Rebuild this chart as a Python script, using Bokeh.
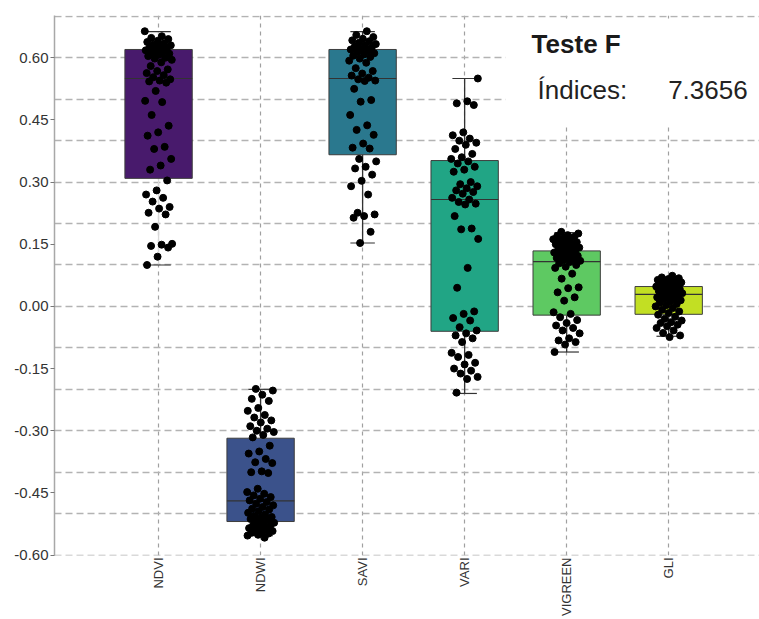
import math
from bokeh.plotting import figure
from bokeh.models import Range1d, FixedTicker, BoxAnnotation, Label, PrintfTickFormatter
from bokeh.embed import file_html
from bokeh.resources import INLINE

categories = ["NDVI", "NDWI", "SAVI", "VARI", "VIGREEN", "GLI"]
box_colors = ["#481a6c", "#3b528b", "#2a788e", "#21a585", "#5ec962", "#c2df23"]

q1 = [0.309, -0.519, 0.366, -0.060, -0.021, -0.019]
med = [0.550, -0.469, 0.550, 0.258, 0.108, 0.029]
q3 = [0.620, -0.318, 0.620, 0.352, 0.134, 0.048]
lo = [0.100, -0.553, 0.153, -0.210, -0.110, -0.072]
hi = [0.663, -0.200, 0.663, 0.550, 0.178, 0.070]

ndvi_pts = [0.664, 0.652, 0.648, 0.645, 0.641, 0.638, 0.635, 0.632, 0.630, 0.628, 0.625, 0.622, 0.620,
            0.618, 0.615, 0.612, 0.610, 0.607, 0.604, 0.600, 0.598, 0.595, 0.589, 0.580, 0.572, 0.568,
            0.563, 0.558, 0.553, 0.548, 0.545, 0.543, 0.540, 0.520, 0.496, 0.493, 0.462, 0.436, 0.420,
            0.412, 0.385, 0.380, 0.356, 0.340, 0.330, 0.304, 0.280, 0.270, 0.262, 0.253, 0.240, 0.236,
            0.226, 0.222, 0.192, 0.151, 0.149, 0.146, 0.142, 0.120, 0.100]
ndwi_pts = [-0.199, -0.203, -0.213, -0.223, -0.228, -0.245, -0.252, -0.262, -0.268, -0.275, -0.280,
            -0.289, -0.295, -0.300, -0.303, -0.310, -0.316, -0.336, -0.350, -0.355, -0.368, -0.376,
            -0.378, -0.398, -0.400, -0.402, -0.440, -0.448, -0.452, -0.456, -0.460, -0.464, -0.468,
            -0.472, -0.476, -0.480, -0.484, -0.488, -0.490, -0.494, -0.498, -0.502, -0.505, -0.508,
            -0.510, -0.513, -0.516, -0.519, -0.522, -0.525, -0.528, -0.530, -0.532, -0.535, -0.537,
            -0.540, -0.542, -0.544, -0.546, -0.548, -0.551, -0.553, -0.558]
savi_pts = [0.664, 0.655, 0.650, 0.646, 0.642, 0.640, 0.636, 0.633, 0.630, 0.627, 0.625, 0.622, 0.620,
            0.617, 0.614, 0.611, 0.608, 0.605, 0.602, 0.598, 0.593, 0.588, 0.575, 0.568, 0.562, 0.557,
            0.552, 0.548, 0.545, 0.544, 0.525, 0.498, 0.494, 0.462, 0.437, 0.426, 0.414, 0.393, 0.383,
            0.381, 0.356, 0.350, 0.337, 0.333, 0.318, 0.303, 0.290, 0.270, 0.226, 0.222, 0.218, 0.214,
            0.180, 0.153]
vari_pts = [0.550, 0.495, 0.490, 0.486, 0.420, 0.413, 0.405, 0.400, 0.395, 0.390, 0.380, 0.368, 0.360,
            0.356, 0.350, 0.345, 0.337, 0.330, 0.325, 0.300, 0.295, 0.290, 0.285, 0.280, 0.276, 0.272,
            0.262, 0.258, 0.252, 0.248, 0.246, 0.218, 0.188, 0.186, 0.163, 0.093, 0.045, -0.012, -0.018,
            -0.028, -0.034, -0.050, -0.058, -0.065, -0.070, -0.077, -0.086, -0.112, -0.117, -0.122,
            -0.136, -0.140, -0.150, -0.155, -0.162, -0.170, -0.175, -0.208]
vigreen_pts = [0.180, 0.176, 0.172, 0.170, 0.168, 0.165, 0.162, 0.160, 0.158, 0.155, 0.152, 0.150, 0.148,
               0.145, 0.142, 0.140, 0.137, 0.135, 0.132, 0.130, 0.127, 0.125, 0.122, 0.120, 0.117, 0.115,
               0.112, 0.110, 0.107, 0.104, 0.100, 0.096, 0.093, 0.079, 0.067, 0.046, 0.044, 0.034, 0.022,
               0.014, -0.014, -0.018, -0.026, -0.033, -0.040, -0.046, -0.052, -0.058, -0.065, -0.077,
               -0.082, -0.086, -0.092, -0.110]
gli_pts = [0.074, 0.070, 0.068, 0.066, 0.064, 0.062, 0.060, 0.058, 0.056, 0.054, 0.052, 0.050, 0.048,
           0.046, 0.044, 0.042, 0.040, 0.038, 0.036, 0.034, 0.032, 0.030, 0.028, 0.026, 0.024, 0.022,
           0.020, 0.018, 0.015, 0.012, 0.009, 0.006, 0.003, 0.000, -0.004, -0.008, -0.012, -0.016,
           -0.020, -0.025, -0.030, -0.034, -0.038, -0.040, -0.044, -0.048, -0.052, -0.058, -0.064,
           -0.070, -0.074]
points = [ndvi_pts, ndwi_pts, savi_pts, vari_pts, vigreen_pts, gli_pts]

y_ticks = [-0.60, -0.45, -0.30, -0.15, 0.00, 0.15, 0.30, 0.45, 0.60]
y_grid = [-0.6, -0.5, -0.4, -0.3, -0.2, -0.1, 0.0, 0.1, 0.2, 0.3, 0.4, 0.5, 0.6, 0.7]

title_text = "Teste F"
stat_label = "Índices:"
stat_value = "7.3656"

FONT = "Liberation Sans"

p = figure(width=759, height=619, output_backend="svg", toolbar_location=None,
           x_range=Range1d(-1.02, 5.89), y_range=Range1d(-0.601, 0.702),
           min_border_left=54, min_border_right=0, min_border_top=15, min_border_bottom=63)
p.outline_line_color = None
p.background_fill_color = "white"
p.border_fill_color = "white"

xs = list(range(len(categories)))

# axes
p.yaxis.ticker = FixedTicker(ticks=y_ticks)
p.yaxis.formatter = PrintfTickFormatter(format="%.2f")
p.yaxis.axis_line_color = "#a8a8a8"
p.yaxis.axis_line_width = 1.5
p.yaxis.major_tick_line_color = "#777777"
p.yaxis.major_tick_out = 4
p.yaxis.major_tick_in = 0
p.yaxis.minor_tick_line_color = None
p.yaxis.major_label_standoff = 2
p.yaxis.major_label_text_font = FONT
p.yaxis.major_label_text_font_size = "15px"
p.yaxis.major_label_text_color = "#333333"

p.xaxis.ticker = FixedTicker(ticks=xs)
p.xaxis.major_label_overrides = {i: c for i, c in enumerate(categories)}
p.xaxis.axis_line_color = None
p.xaxis.major_tick_line_color = None
p.xaxis.major_tick_out = 0
p.xaxis.major_tick_in = 0
p.xaxis.minor_tick_line_color = None
p.xaxis.major_label_orientation = math.pi / 2
p.xaxis.major_label_standoff = 2
p.xaxis.major_label_text_font = FONT
p.xaxis.major_label_text_font_size = "13px"
p.xaxis.major_label_text_color = "#333333"

# grids
p.ygrid.ticker = FixedTicker(ticks=y_grid)
p.ygrid.grid_line_color = "#b3b3b3"
p.ygrid.grid_line_dash = "7 4"
p.ygrid.grid_line_width = 1.5
p.xgrid.grid_line_color = "#a0a0a0"
p.xgrid.grid_line_dash = "4 4"
p.xgrid.grid_line_width = 1.2

# whiskers
whisker_colors = ["#d8d8d8", "#333333", "#333333", "#333333", "#333333", "#333333"]
p.segment(x0=xs, y0=q3, x1=xs, y1=hi, line_color=whisker_colors, line_width=1.3)
p.segment(x0=xs, y0=q1, x1=xs, y1=lo, line_color=whisker_colors, line_width=1.3)
cap_half = 0.12
p.segment(x0=[x - cap_half for x in xs], y0=hi, x1=[x + cap_half for x in xs], y1=hi,
          line_color="#333333", line_width=1.2)
p.segment(x0=[x - cap_half for x in xs], y0=lo, x1=[x + cap_half for x in xs], y1=lo,
          line_color="#333333", line_width=1.2)

# boxes
box_w = 0.66
p.vbar(x=xs, width=box_w, bottom=q1, top=q3, fill_color=box_colors, line_color="#3d3d3d", line_width=1)
p.segment(x0=[x - box_w / 2 for x in xs], y0=med, x1=[x + box_w / 2 for x in xs], y1=med,
          line_color="#333333", line_width=1.2)

# jittered points (deterministic low-discrepancy offsets)
px, py = [], []
for ci, vals in enumerate(points):
    for i, v in enumerate(vals):
        off = (((i + ci * 7) * 0.6180339887) % 1.0 - 0.5) * 0.27
        px.append(ci + off)
        py.append(v)
p.scatter(px, py, size=7, fill_color="black", line_color="black")

# title panel
p.add_layout(BoxAnnotation(left=3.40, bottom=0.435, top=0.695, fill_color="white", fill_alpha=1.0,
                           line_color=None))
p.add_layout(Label(x=4.093, y=0.633, text=title_text, text_font=FONT, text_font_style="bold",
                   text_font_size="26px", text_align="center", text_baseline="alphabetic",
                   text_color="#1a1a1a"))
p.add_layout(Label(x=3.715, y=0.523, text=stat_label, text_font=FONT, text_font_size="26px",
                   text_align="left", text_baseline="alphabetic", text_color="#222222"))
p.add_layout(Label(x=5.774, y=0.523, text=stat_value, text_font=FONT, text_font_size="26px",
                   text_align="right", text_baseline="alphabetic", text_color="#222222"))

open("out.html", "w").write(file_html(p, INLINE))
